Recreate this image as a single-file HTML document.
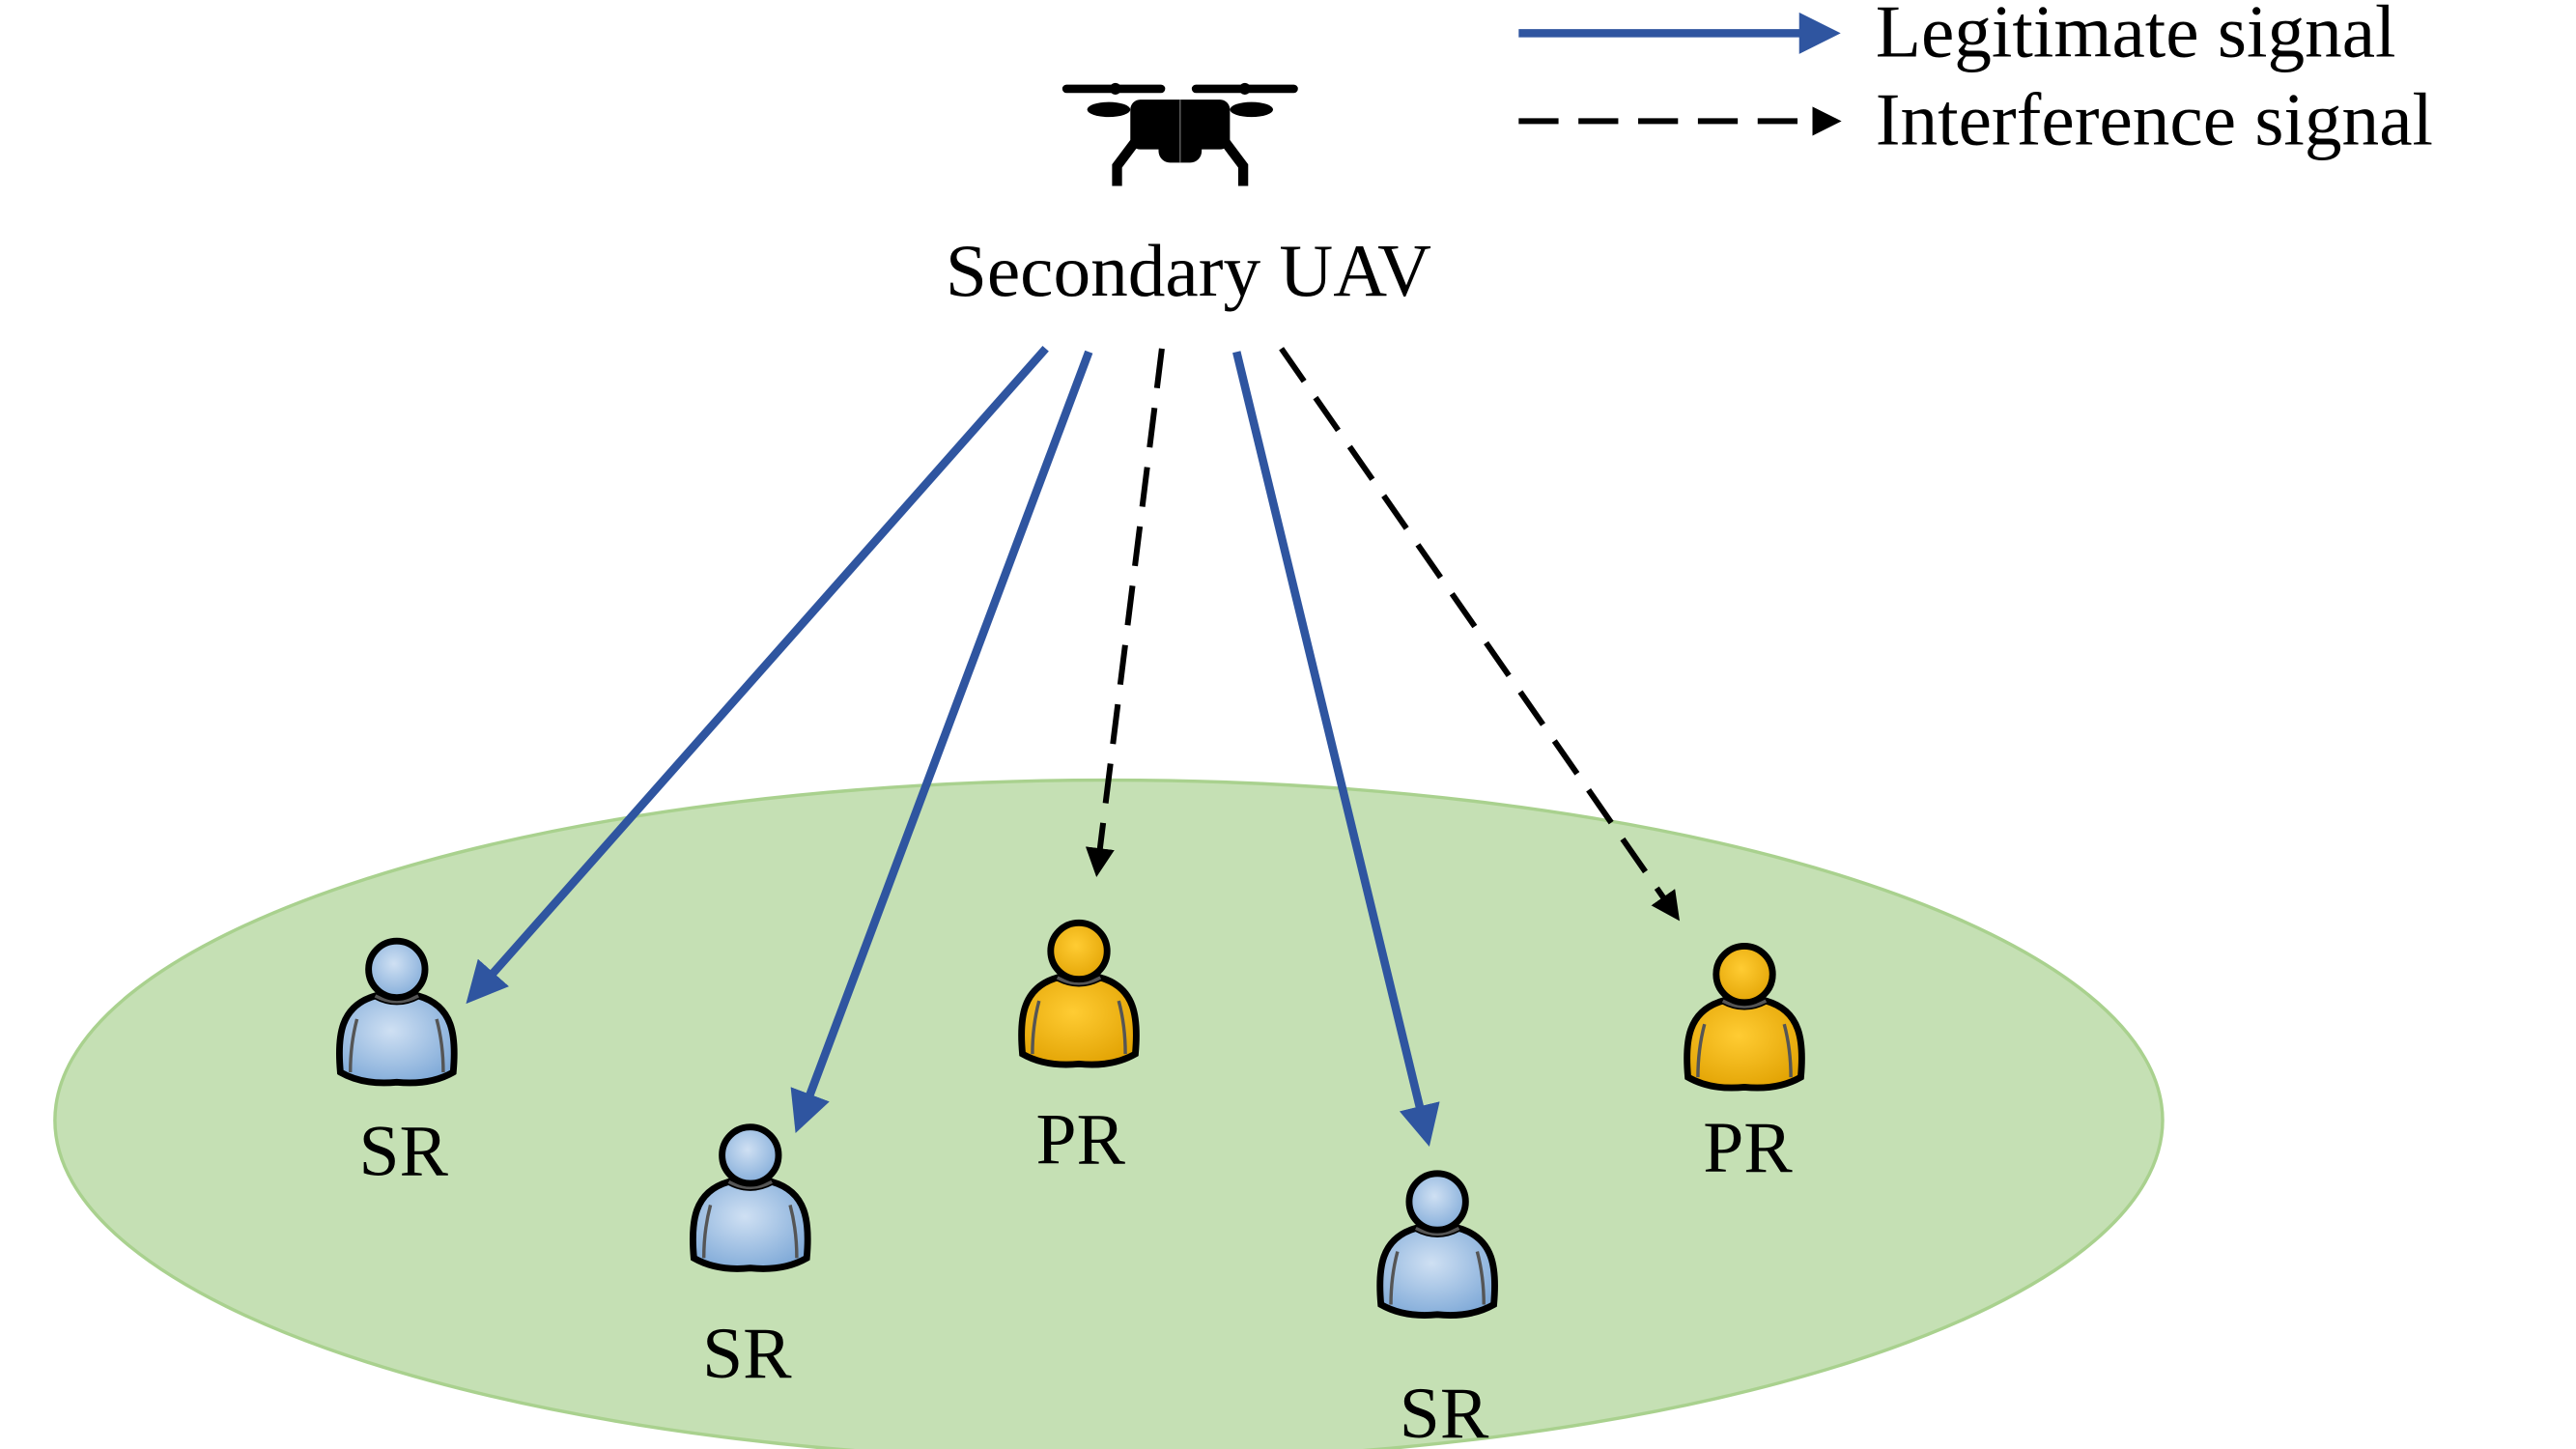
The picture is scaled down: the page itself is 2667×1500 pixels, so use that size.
<!DOCTYPE html>
<html><head><meta charset="utf-8"><style>
html,body{margin:0;padding:0;background:#fff;}
svg{display:block;}
text{font-family:"Liberation Serif",serif;fill:#000;}
</style></head><body>
<svg width="2667" height="1500" viewBox="0 0 1552 873" xmlns="http://www.w3.org/2000/svg">
<defs>
<radialGradient id="gb" cx="0.45" cy="0.4" r="0.7"><stop offset="0" stop-color="#cfe0f3"/><stop offset="1" stop-color="#7aa6d6"/></radialGradient>
<radialGradient id="go" cx="0.45" cy="0.4" r="0.7"><stop offset="0" stop-color="#ffcc33"/><stop offset="1" stop-color="#e0a000"/></radialGradient>
<marker id="ab" markerWidth="5" markerHeight="5" refX="4" refY="2.5" orient="auto" markerUnits="strokeWidth"><path d="M0,0 L5,2.5 L0,5 Z" fill="#2f55a0"/></marker>
<marker id="ak" markerWidth="5" markerHeight="5" refX="4" refY="2.5" orient="auto" markerUnits="strokeWidth"><path d="M0,0 L5,2.5 L0,5 Z" fill="#000"/></marker>
<g id="pb">
<path d="M-34,62 C-36,40 -34,22 -13,16 Q0,23 13,16 C34,22 36,40 34,62 Q20,70 0,68 Q-20,70 -34,62 Z" fill="url(#gb)" stroke="#000" stroke-width="4"/>
<path d="M-13,16 Q0,23 13,16" fill="none" stroke="#555" stroke-width="2"/>
<path d="M-24,30 Q-28,45 -28,62 M24,30 Q28,45 28,62" fill="none" stroke="#555" stroke-width="2"/>
<circle cx="0" cy="0" r="17" fill="url(#gb)" stroke="#000" stroke-width="4"/>
</g>
<g id="po">
<path d="M-34,62 C-36,40 -34,22 -13,16 Q0,23 13,16 C34,22 36,40 34,62 Q20,70 0,68 Q-20,70 -34,62 Z" fill="url(#go)" stroke="#000" stroke-width="4"/>
<path d="M-13,16 Q0,23 13,16" fill="none" stroke="#555" stroke-width="2"/>
<path d="M-24,30 Q-28,45 -28,62 M24,30 Q28,45 28,62" fill="none" stroke="#555" stroke-width="2"/>
<circle cx="0" cy="0" r="17" fill="url(#go)" stroke="#000" stroke-width="4"/>
</g>
</defs>
<ellipse cx="668" cy="675" rx="635" ry="205" fill="#c5e0b4" stroke="#a9d18e" stroke-width="2"/>

<!-- drone -->
<g fill="#000">
<rect x="640" y="51" width="62" height="5" rx="2.5"/>
<rect x="718" y="51" width="64" height="5" rx="2.5"/>
<circle cx="672" cy="53.5" r="3.5"/>
<circle cx="750" cy="53.5" r="3.5"/>
<ellipse cx="668" cy="66" rx="13" ry="4.5"/>
<ellipse cx="754" cy="66" rx="13" ry="4.5"/>
<rect x="681" y="60" width="60" height="30" rx="6"/>
<rect x="698" y="80" width="26" height="18" rx="7"/>
<path d="M685,84 L673,100 L673,112" fill="none" stroke="#000" stroke-width="6"/>
<path d="M737,84 L749,100 L749,112" fill="none" stroke="#000" stroke-width="6"/>
</g>
<line x1="711" y1="60" x2="711" y2="98" stroke="#666" stroke-width="0.8"/>
<text x="716" y="178" font-size="45" text-anchor="middle">Secondary UAV</text>

<!-- legend -->
<line x1="915" y1="20" x2="1104" y2="20" stroke="#2f55a0" stroke-width="5" marker-end="url(#ab)"/>
<text x="1130" y="34" font-size="45">Legitimate signal</text>
<line x1="915" y1="73" x2="1106" y2="73" stroke="#000" stroke-width="3.5" stroke-dasharray="24,12" marker-end="url(#ak)"/>
<text x="1130" y="87" font-size="45">Interference signal</text>

<!-- arrows -->
<line x1="630" y1="210" x2="284" y2="601" stroke="#2f55a0" stroke-width="5" marker-end="url(#ab)"/>
<line x1="656" y1="212" x2="481" y2="678" stroke="#2f55a0" stroke-width="5" marker-end="url(#ab)"/>
<line x1="745" y1="212" x2="860" y2="686" stroke="#2f55a0" stroke-width="5" marker-end="url(#ab)"/>
<line x1="700" y1="210" x2="661" y2="525" stroke="#000" stroke-width="3.5" stroke-dasharray="24,12" marker-end="url(#ak)"/>
<line x1="772" y1="210" x2="1010" y2="552" stroke="#000" stroke-width="3.5" stroke-dasharray="24,12" marker-end="url(#ak)"/>

<!-- persons -->
<use href="#pb" x="239" y="584"/>
<use href="#pb" x="452" y="696"/>
<use href="#po" x="650" y="573"/>
<use href="#pb" x="866" y="724"/>
<use href="#po" x="1051" y="587"/>

<g font-size="44" text-anchor="middle">
<text x="243" y="708">SR</text>
<text x="450" y="830">SR</text>
<text x="651" y="701">PR</text>
<text x="870" y="866">SR</text>
<text x="1053" y="706">PR</text>
</g>
</svg>
</body></html>
